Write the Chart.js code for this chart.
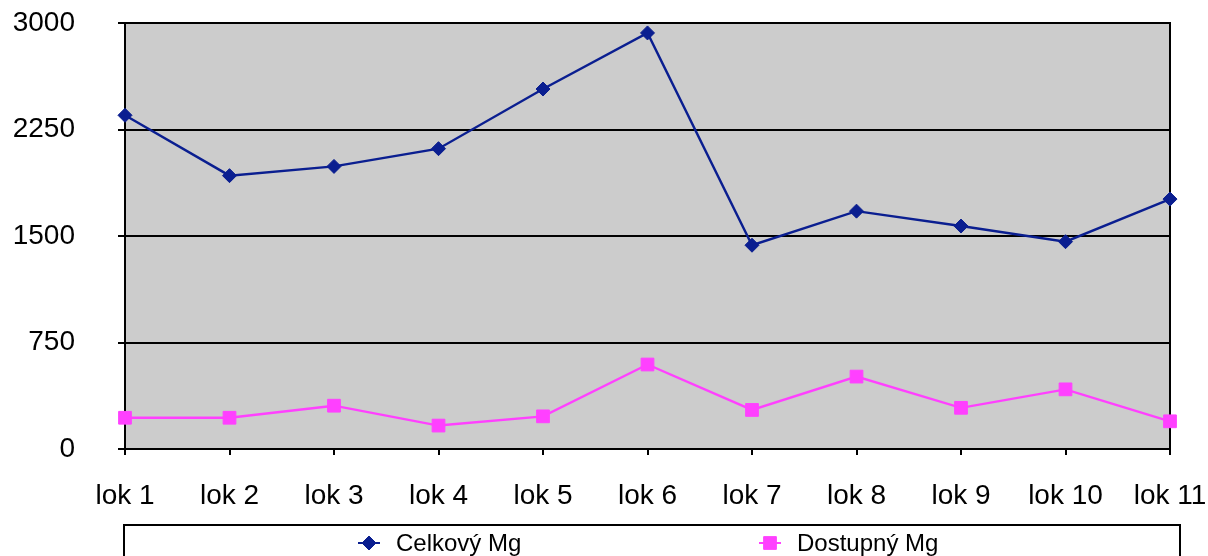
<!DOCTYPE html>
<html>
<head>
<meta charset="utf-8">
<script src="https://cdn.jsdelivr.net/npm/chart.js@4.4.1/dist/chart.umd.min.js"></script>
<style>
  html, body { margin: 0; padding: 0; background: #ffffff; }
  #wrap { width: 1208px; height: 556px; }
</style>
</head>
<body>
<div id="wrap"><canvas id="c" width="1208" height="556"></canvas></div>
<script>
// Magnesium content per locality
const categories = ['lok 1', 'lok 2', 'lok 3', 'lok 4', 'lok 5', 'lok 6', 'lok 7', 'lok 8', 'lok 9', 'lok 10', 'lok 11'];
const celkovyMg = [2350, 1925, 1990, 2115, 2535, 2930, 1435, 1675, 1570, 1460, 1760];
const dostupnyMg = [220, 220, 305, 165, 230, 595, 275, 510, 290, 420, 195];
const yTicks = [0, 750, 1500, 2250, 3000];

const FONT = "'Liberation Sans', Arial, Helvetica, sans-serif";
const BLUE = '#0a1e90';
const PINK = '#ff40ff';

// Grey plot background, white page and the right-hand frame edge
const plotBackground = {
  id: 'plotBackground',
  beforeDraw(chart) {
    const { ctx, chartArea: a } = chart;
    ctx.save();
    ctx.fillStyle = '#ffffff';
    ctx.fillRect(0, 0, chart.width, chart.height);
    ctx.fillStyle = '#cccccc';
    ctx.fillRect(a.left, a.top, a.right - a.left, a.bottom - a.top);
    ctx.restore();
  },
  beforeDatasetsDraw(chart) {
    const { ctx, chartArea: a } = chart;
    ctx.save();
    ctx.strokeStyle = '#000000';
    ctx.lineWidth = 2;
    ctx.beginPath();
    ctx.moveTo(a.right, a.top - 1);
    ctx.lineTo(a.right, a.bottom + 1);
    ctx.stroke();
    ctx.restore();
  }
};

// Boxed legend beneath the x axis
const boxedLegend = {
  id: 'boxedLegend',
  afterDraw(chart) {
    const ctx = chart.ctx;
    const frame = { left: 124, top: 525, right: 1180 };
    const markerX = [369, 770];
    const y = 543;
    ctx.save();
    ctx.strokeStyle = '#000000';
    ctx.lineWidth = 2;
    ctx.strokeRect(frame.left, frame.top, frame.right - frame.left, 80);
    chart.data.datasets.forEach((ds, i) => {
      const mx = markerX[i];
      ctx.strokeStyle = ds.borderColor;
      ctx.lineWidth = 2;
      ctx.beginPath();
      ctx.moveTo(mx - 11, y);
      ctx.lineTo(mx + 11, y);
      ctx.stroke();
      ctx.fillStyle = ds.pointBackgroundColor;
      ctx.strokeStyle = ds.pointBorderColor;
      ctx.lineWidth = 1;
      Chart.helpers.drawPoint(ctx, {
        pointStyle: ds.pointStyle,
        radius: ds.pointRadius,
        borderWidth: 1,
        rotation: 0
      }, mx, y);
      ctx.fillStyle = '#000000';
      ctx.font = '24px ' + FONT;
      ctx.textAlign = 'left';
      ctx.textBaseline = 'middle';
      ctx.fillText(ds.label, mx + 27, y + 1);
    });
    ctx.restore();
  }
};

// Axis label overhang is allowed into the page margins
function noPadding(scale) {
  scale.paddingTop = 0;
  scale.paddingBottom = 0;
  scale.paddingLeft = 0;
  scale.paddingRight = 0;
}

new Chart(document.getElementById('c'), {
  type: 'line',
  data: {
    labels: categories,
    datasets: [
      {
        label: 'Celkový Mg',
        data: celkovyMg,
        borderColor: BLUE,
        backgroundColor: BLUE,
        pointBackgroundColor: BLUE,
        pointBorderColor: BLUE,
        borderWidth: 2.4,
        pointStyle: 'rectRot',
        pointRadius: 7,
        pointBorderWidth: 1,
        tension: 0,
        clip: false
      },
      {
        label: 'Dostupný Mg',
        data: dostupnyMg,
        borderColor: PINK,
        backgroundColor: PINK,
        pointBackgroundColor: PINK,
        pointBorderColor: PINK,
        borderWidth: 2.4,
        pointStyle: 'rect',
        pointRadius: 9,
        pointBorderWidth: 1,
        tension: 0,
        clip: false
      }
    ]
  },
  options: {
    responsive: false,
    animation: false,
    devicePixelRatio: 1,
    layout: { padding: { top: 23, right: 38, left: 0, bottom: 0 } },
    plugins: {
      legend: { display: false },
      tooltip: { enabled: false },
      title: { display: false }
    },
    scales: {
      x: {
        type: 'category',
        offset: false,
        border: { display: true, color: '#000000', width: 2 },
        grid: {
          drawOnChartArea: false,
          drawTicks: true,
          tickLength: 6,
          color: '#000000',
          lineWidth: 2
        },
        ticks: {
          color: '#000000',
          font: { family: FONT, size: 28 },
          padding: 24,
          maxRotation: 0,
          autoSkip: false
        },
        afterFit(scale) { scale.height = 107; noPadding(scale); }
      },
      y: {
        min: 0,
        max: 3000,
        border: { display: true, color: '#000000', width: 2 },
        grid: {
          color: '#000000',
          lineWidth: 2,
          tickLength: 7,
          drawTicks: true
        },
        ticks: {
          color: '#000000',
          font: { family: FONT, size: 28 },
          padding: 43,
          callback: (v) => String(v)
        },
        afterBuildTicks(scale) {
          scale.ticks = yTicks.map(v => ({ value: v }));
        },
        afterFit(scale) { scale.width = 125; noPadding(scale); }
      }
    }
  },
  plugins: [plotBackground, boxedLegend]
});
</script>
</body>
</html>
